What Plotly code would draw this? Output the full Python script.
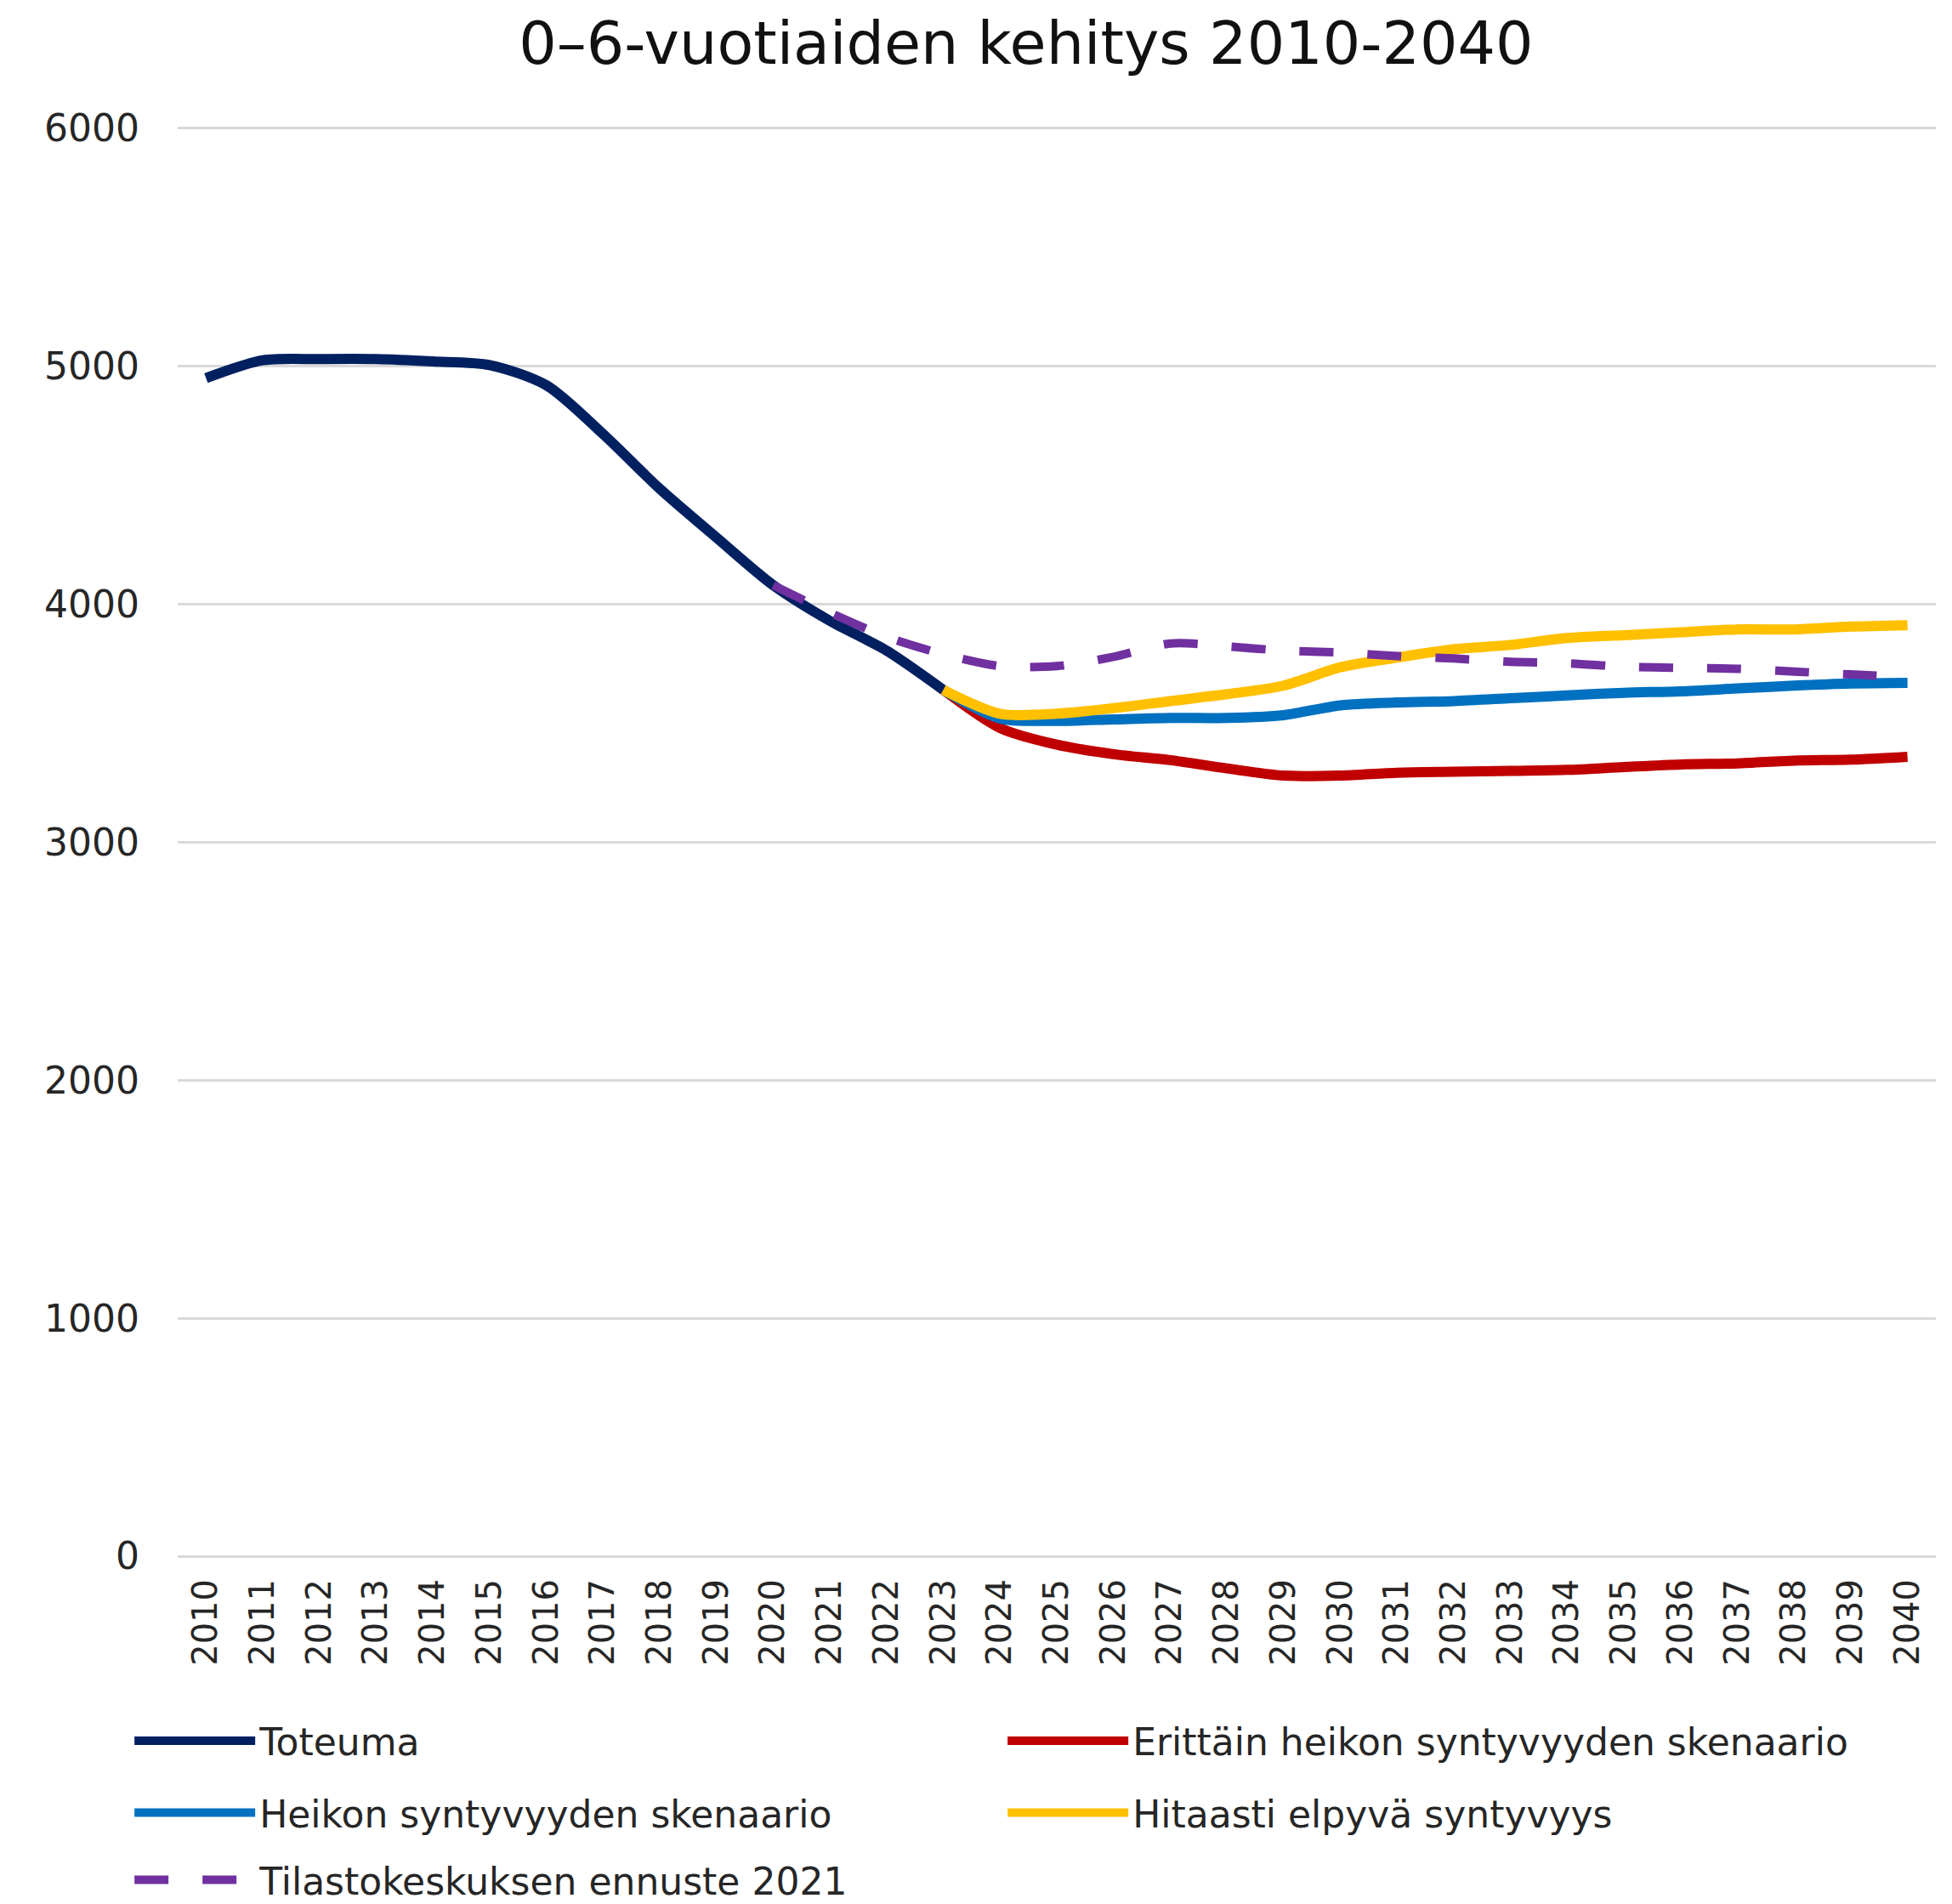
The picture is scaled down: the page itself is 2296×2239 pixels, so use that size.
import plotly.graph_objects as go

years = [str(y) for y in range(2010, 2041)]

toteuma_years = [str(y) for y in range(2010, 2024)]
toteuma = [4950, 5025, 5030, 5030, 5020, 5005, 4920, 4715, 4485, 4280, 4080, 3930, 3805, 3640]

scen_years = [str(y) for y in range(2023, 2041)]
erittain_heikko = [3640, 3480, 3410, 3370, 3345, 3310, 3280, 3280, 3292, 3296, 3300, 3304, 3316, 3327, 3331, 3343, 3347, 3359]
heikko = [3640, 3520, 3510, 3516, 3522, 3522, 3534, 3575, 3587, 3593, 3605, 3617, 3628, 3634, 3646, 3658, 3667, 3670]
hitaasti = [3640, 3540, 3540, 3563, 3593, 3622, 3658, 3735, 3776, 3811, 3829, 3858, 3870, 3882, 3894, 3894, 3906, 3912]

tk_years = [str(y) for y in range(2020, 2041)]
tilastokeskus = [4080, 3965, 3863, 3790, 3740, 3740, 3779, 3835, 3823, 3805, 3797, 3782, 3772, 3758, 3752, 3738, 3732, 3729, 3717, 3705, 3695]

FONT = "DejaVu Sans"
TXT = "#262626"

fig = go.Figure()
common = dict(mode="lines", line_shape="spline")
fig.add_trace(go.Scatter(x=toteuma_years, y=toteuma, name="Toteuma", legend="legend",
                         line=dict(color="#002060", width=12, smoothing=0.8), **common))
fig.add_trace(go.Scatter(x=scen_years, y=erittain_heikko, name="Erittäin heikon syntyvyyden skenaario", legend="legend",
                         line=dict(color="#C00000", width=12, smoothing=0.8), **common))
fig.add_trace(go.Scatter(x=scen_years, y=heikko, name="Heikon syntyvyyden skenaario", legend="legend2",
                         line=dict(color="#0070C0", width=12, smoothing=0.8), **common))
fig.add_trace(go.Scatter(x=scen_years, y=hitaasti, name="Hitaasti elpyvä syntyvyys", legend="legend2",
                         line=dict(color="#FFC000", width=12, smoothing=0.8), **common))
fig.add_trace(go.Scatter(x=tk_years, y=tilastokeskus, name="Tilastokeskuksen ennuste 2021", legend="legend3",
                         line=dict(color="#7030A0", width=10, dash="40px,40px", smoothing=0.8), **common))

leg = dict(orientation="h", xanchor="left", yanchor="middle", x=-0.027,
           font=dict(family=FONT, size=44, color=TXT), itemwidth=142,
           entrywidth=870, entrywidthmode="pixels", bgcolor="rgba(0,0,0,0)")

fig.update_layout(
    width=2288, height=2231,
    margin=dict(l=201, r=19, t=140, b=409, autoexpand=False),
    paper_bgcolor="white", plot_bgcolor="white",
    title=dict(text="0–6-vuotiaiden kehitys 2010-2040", x=0.524, xanchor="center",
               y=0.981, yanchor="middle", yref="container",
               font=dict(family=FONT, size=70, color="#111111")),
    xaxis=dict(type="category", categoryorder="array", categoryarray=years,
               range=[-0.5, 30.5], automargin=False,
               tickangle=-90, tickfont=dict(family=FONT, size=40, color=TXT),
               showgrid=False, showline=False, ticks="", ticklabelstandoff=18),
    yaxis=dict(range=[0, 6010], tickvals=[0, 1000, 2000, 3000, 4000, 5000, 6000],
               automargin=False,
               tickfont=dict(family=FONT, size=44, color=TXT),
               gridcolor="#d9d9d9", gridwidth=3, zeroline=True, zerolinecolor="#d9d9d9",
               zerolinewidth=3, showline=False, ticks="", ticklabelstandoff=44),
    legend=dict(leg, y=-0.1292),
    legend2=dict(leg, y=-0.1795),
    legend3=dict(leg, y=-0.2265),
)

fig.write_html("out.html")
